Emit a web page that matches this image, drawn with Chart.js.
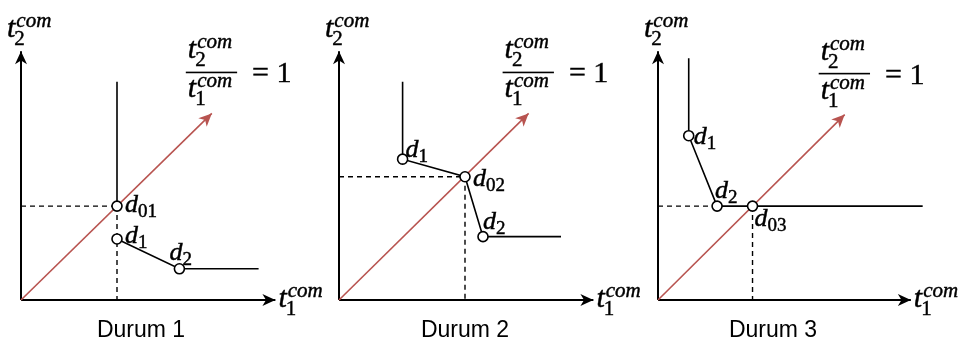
<!DOCTYPE html>
<html>
<head>
<meta charset="utf-8">
<script src="https://cdn.jsdelivr.net/npm/chart.js@4.4.0/dist/chart.umd.min.js"></script>
<style>
  html, body { margin: 0; padding: 0; background: #ffffff; }
  #wrap { position: relative; width: 960px; height: 343px; overflow: hidden; }
  #wrap canvas { position: absolute; left: 0; top: 0; }
</style>
</head>
<body>
<div id="wrap">
  <canvas id="durum1" width="960" height="343"></canvas>
  <canvas id="durum2" width="960" height="343"></canvas>
  <canvas id="durum3" width="960" height="343"></canvas>
</div>
<script>
'use strict';

// Diagram units: both axes share the same scale (24 px per unit)
const UNIT_MAX = 12.5;

// Durum 1
const d1AxisX = [[0, 0], [10.6, 0]];
const d1AxisY = [[0, 0], [0, 10.6]];
const d1Ratio = [[0, 0], [7.95, 7.95]];
const d1Upper = [[4, 9.3], [4, 4]];
const d1Lower = [[4, 2.6], [6.6, 1.33], [9.9, 1.33]];
const d1Guides = [[[0, 4], [4, 4]], [[4, 4], [4, 0]]];
const d1Points = [[4, 4], [4, 2.6], [6.6, 1.33]];
const d1Names = ['01', '1', '2'];

// Durum 2
const d2AxisX = [[0, 0], [10.6, 0]];
const d2AxisY = [[0, 0], [0, 10.6]];
const d2Ratio = [[0, 0], [7.9, 7.95]];
const d2Curve = [[2.65, 9.3], [2.65, 6.0], [5.25, 5.25], [6.0, 2.7], [9.25, 2.7]];
const d2Guides = [[[0, 5.25], [5.25, 5.25]], [[5.25, 5.25], [5.25, 0]]];
const d2Points = [[2.65, 6.0], [5.25, 5.25], [6.0, 2.7]];
const d2Names = ['1', '02', '2'];

// Durum 3
const d3AxisX = [[0, 0], [10.7, 0]];
const d3AxisY = [[0, 0], [0, 10.6]];
const d3Ratio = [[0, 0], [7.9, 7.9]];
const d3Curve = [[1.3, 10.3], [1.3, 7.0], [2.5, 4.0], [4.0, 4.0], [11.2, 4.0]];
const d3Guides = [[[0, 4], [2.5, 4]], [[4, 4], [4, 0]]];
const d3Points = [[1.3, 7.0], [2.5, 4.0], [4.0, 4.0]];
const d3Names = ['1', '2', '03'];

const captions = ['Durum 1', 'Durum 2', 'Durum 3'];

const RED = '#b85450';
const BLACK = '#000000';
const MATH = '"Liberation Serif", "DejaVu Serif", serif';

// Where each panel sits on the page and where its point labels go (px)
const panels = [
    {
        id: 'durum1', caption: captions[0], origin: [21, 300], captionDx: 120,
        axisX: d1AxisX, axisY: d1AxisY, ratio: d1Ratio,
        solid: [d1Upper, d1Lower], guides: d1Guides,
        points: d1Points, names: d1Names,
        nameOffsets: [[8, 6], [8, 4], [-10, -9]]
    },
    {
        id: 'durum2', caption: captions[1], origin: [339, 300], captionDx: 126,
        axisX: d2AxisX, axisY: d2AxisY, ratio: d2Ratio,
        solid: [d2Curve], guides: d2Guides,
        points: d2Points, names: d2Names,
        nameOffsets: [[3, -2], [8, 9], [0, -8]]
    },
    {
        id: 'durum3', caption: captions[2], origin: [658, 300], captionDx: 115,
        axisX: d3AxisX, axisY: d3AxisY, ratio: d3Ratio,
        solid: [d3Curve], guides: d3Guides,
        points: d3Points, names: d3Names,
        nameOffsets: [[5, 8], [-2, -8], [2, 20]]
    }
];

const toXY = list => list.map(p => ({ x: p[0], y: p[1] }));

function lineSet(list, color, width, dash, order) {
    return {
        data: toXY(list),
        showLine: true,
        borderColor: color,
        borderWidth: width,
        borderDash: dash || [],
        borderCapStyle: 'butt',
        pointRadius: 0,
        pointHoverRadius: 0,
        tension: 0,
        clip: false,
        order: order
    };
}

// Filled arrow head with its tip on the last point of a segment
function arrowHead(ctx, from, to, color) {
    const dx = to[0] - from[0];
    const dy = to[1] - from[1];
    const len = Math.hypot(dx, dy);
    const ux = dx / len, uy = dy / len;
    const nx = -uy, ny = ux;
    const L = 13, W = 6;
    ctx.save();
    ctx.fillStyle = color;
    ctx.beginPath();
    ctx.moveTo(to[0], to[1]);
    ctx.lineTo(to[0] - L * ux + W * nx, to[1] - L * uy + W * ny);
    ctx.lineTo(to[0] - 0.72 * L * ux, to[1] - 0.72 * L * uy);
    ctx.lineTo(to[0] - L * ux - W * nx, to[1] - L * uy - W * ny);
    ctx.closePath();
    ctx.fill();
    ctx.restore();
}

// filled text with a thin outline so the serif glyphs carry more weight
function text(ctx, str, x, y) {
    ctx.fillText(str, x, y);
    ctx.strokeText(str, x, y);
}

// t with "com" above and an index below, returns its width
function drawT(ctx, x, y, index) {
    ctx.font = 'italic 30px ' + MATH;
    text(ctx, 't', x, y);
    const w = ctx.measureText('t').width;
    ctx.font = 'italic 21px ' + MATH;
    text(ctx, 'com', x + w + 1, y - 10);
    const supW = ctx.measureText('com').width;
    ctx.font = '21px ' + MATH;
    text(ctx, index, x + w - 1, y + 8);
    return w + 1 + supW;
}

function drawName(ctx, x, y, index) {
    ctx.font = 'italic 26px ' + MATH;
    text(ctx, 'd', x, y);
    const w = ctx.measureText('d').width;
    ctx.font = '19px ' + MATH;
    text(ctx, index, x + w, y + 5);
}

function makeDecorations(panel) {
    return {
        id: 'decorations',
        afterDatasetsDraw(chart) {
            const { ctx, scales: { x, y } } = chart;
            const px = p => [x.getPixelForValue(p[0]), y.getPixelForValue(p[1])];

            const o = px([0, 0]);
            const xTip = px(panel.axisX[1]);
            const yTip = px(panel.axisY[1]);
            const rTip = px(panel.ratio[1]);
            arrowHead(ctx, o, xTip, BLACK);
            arrowHead(ctx, o, yTip, BLACK);
            arrowHead(ctx, o, rTip, RED);

            ctx.save();
            ctx.fillStyle = BLACK;
            ctx.strokeStyle = BLACK;
            ctx.lineWidth = 0.45;
            ctx.textAlign = 'left';
            ctx.textBaseline = 'alphabetic';

            // axis titles
            drawT(ctx, yTip[0] - 14, yTip[1] - 14, '2');
            drawT(ctx, xTip[0] + 3, xTip[1] + 7, '1');

            // t2/t1 = 1 next to the diagonal
            const bx = rTip[0] - 26;
            const by = rTip[1] - 41;
            const numW = drawT(ctx, bx + 2, by - 14, '2');
            drawT(ctx, bx + 2, by + 25, '1');
            const barW = numW + 7;
            ctx.fillRect(bx, by - 0.75, barW, 1.6);
            ctx.font = '30px ' + MATH;
            text(ctx, '= 1', bx + barW + 15, by + 10);

            // point names
            panel.points.forEach((p, i) => {
                const c = px(p);
                const off = panel.nameOffsets[i];
                drawName(ctx, c[0] + off[0], c[1] + off[1], panel.names[i]);
            });

            // caption
            ctx.font = '23px "Liberation Sans", Arial, sans-serif';
            ctx.textAlign = 'center';
            ctx.fillText(panel.caption, o[0] + panel.captionDx, 337);
            ctx.restore();
        }
    };
}

function buildPanel(panel) {
    const datasets = [];
    datasets.push({
        data: toXY(panel.points),
        showLine: false,
        pointRadius: 5,
        pointHoverRadius: 5,
        pointBackgroundColor: '#ffffff',
        pointBorderColor: BLACK,
        pointBorderWidth: 1.6,
        clip: false,
        order: 0
    });
    panel.solid.forEach(part => datasets.push(lineSet(part, BLACK, 1.6, null, 1)));
    datasets.push(lineSet(panel.ratio, RED, 1.6, null, 2));
    panel.guides.forEach(part => datasets.push(lineSet(part, BLACK, 1.4, [5, 4], 3)));
    datasets.push(lineSet(panel.axisX, BLACK, 2, null, 4));
    datasets.push(lineSet(panel.axisY, BLACK, 2, null, 4));

    const [ox, oy] = panel.origin;
    const span = UNIT_MAX * 24;

    return new Chart(document.getElementById(panel.id), {
        type: 'scatter',
        data: { datasets },
        options: {
            responsive: false,
            animation: false,
            events: [],
            layout: {
                padding: { left: ox, right: 960 - ox - span, top: oy - span, bottom: 343 - oy }
            },
            plugins: {
                legend: { display: false },
                tooltip: { enabled: false }
            },
            scales: {
                x: { type: 'linear', min: 0, max: UNIT_MAX, display: false },
                y: { type: 'linear', min: 0, max: UNIT_MAX, display: false }
            }
        },
        plugins: [makeDecorations(panel)]
    });
}

panels.forEach(buildPanel);
</script>
</body>
</html>
